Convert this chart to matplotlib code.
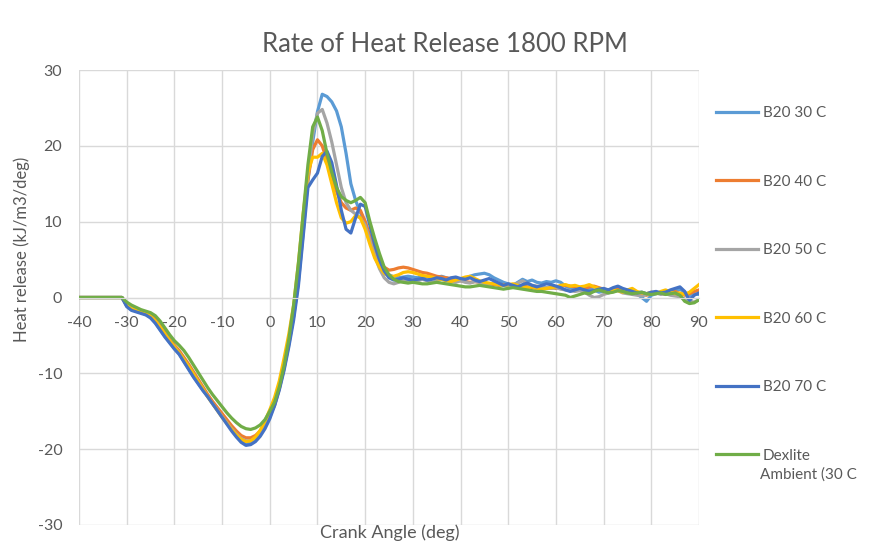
import matplotlib
matplotlib.use("Agg")
import matplotlib.pyplot as plt
import numpy as np

plt.rcParams['font.family'] = ['Lato', 'DejaVu Sans']
plt.rcParams['axes.unicode_minus'] = False

# crank angle, one value per degree from -40 to 90
crank_angle = list(range(-40, 91))

lead_in = [0.0] * 9  # -40 .. -32

b20_30 = lead_in + [
    0.0, -1.1, -1.6, -1.8, -2.0, -2.2, -2.6, -3.3, -4.2, -5.1, -5.9, -6.7, -7.4, -8.4, -9.4, -10.4,
    -11.3, -12.2, -13.0, -13.9, -14.8, -15.6, -16.5, -17.3, -18.1, -18.8, -19.2, -19.1, -18.7, -18.0, -17.0, -15.8,
    -14.0, -11.8, -9.2, -6.0, -2.5, 2.0, 8.5, 15.5, 20.5, 24.5, 26.8, 26.5, 25.8, 24.6, 22.5, 19.0, 15.0, 12.8, 11.2, 10.0,
    8.0, 6.0, 4.5, 3.5, 3.0, 2.7, 2.6, 2.7, 2.8, 2.7,
    2.6, 2.8, 2.7, 2.5, 2.6, 2.8, 2.6, 2.4, 2.5, 2.3,
    2.5, 2.8, 3.0, 3.1, 3.2, 3.0, 2.6, 2.3, 2.0, 1.8,
    1.6, 2.0, 2.4, 2.1, 2.3, 2.0, 1.9, 2.1, 2.0, 2.2,
    2.0, 1.5, 1.2, 1.0, 1.1, 0.9, 1.2, 1.0, 0.7, 0.8,
    1.0, 1.1, 1.3, 0.9, 0.7, 0.9, 0.5, 0.0, -0.5, 0.3,
    0.5, 0.7, 0.6, 0.9, 0.8, 1.1, 0.7, 0.2, 0.5, 0.4]

b20_40 = lead_in + [
    0.0, -0.9, -1.3, -1.6, -1.8, -2.0, -2.3, -2.9, -3.7, -4.6, -5.5, -6.3, -7.0, -7.9, -8.8, -9.8,
    -10.8, -11.8, -12.8, -13.7, -14.5, -15.3, -16.1, -16.9, -17.6, -18.2, -18.5, -18.5, -18.2, -17.6, -16.7, -15.5,
    -14.2, -12.0, -9.2, -6.0, -2.2, 3.0, 9.5, 15.5, 19.5, 20.8, 20.0, 18.0, 16.0, 14.0, 12.5, 11.8, 11.5, 11.8, 11.5, 10.0,
    8.0, 6.0, 4.8, 4.0, 3.6, 3.7, 3.9, 4.0, 3.9, 3.7,
    3.5, 3.3, 3.2, 3.0, 2.8, 2.7, 2.6, 2.5, 2.3, 2.2,
    2.1, 2.0, 2.1, 2.0, 1.9, 1.8, 1.7, 1.6, 1.7, 1.6,
    1.5, 1.4, 1.6, 1.5, 1.3, 1.2, 1.1, 1.2, 1.3, 1.2,
    1.5, 1.6, 1.5, 1.4, 1.3, 1.2, 1.4, 1.5, 1.3, 1.1,
    1.0, 0.9, 1.1, 0.8, 0.7, 0.9, 0.6, 0.4, 0.3, 0.5,
    0.7, 0.6, 0.4, 0.6, 0.8, 0.5, 0.3, 0.5, 0.8, 1.0]

b20_50 = lead_in + [
    0.0, -1.0, -1.4, -1.7, -1.9, -2.1, -2.5, -3.1, -3.9, -4.8, -5.7, -6.5, -7.3, -8.2, -9.1, -10.1,
    -11.1, -12.1, -13.1, -14.0, -14.8, -15.7, -16.5, -17.3, -18.0, -18.6, -18.9, -18.9, -18.6, -17.9, -16.9, -15.6,
    -14.2, -12.0, -9.4, -6.2, -2.5, 2.5, 9.0, 16.0, 21.5, 24.3, 24.8, 23.0, 20.5, 17.5, 14.5, 12.5, 11.5, 11.0, 10.5, 9.5,
    7.5, 5.5, 3.8, 2.6, 2.0, 1.8, 2.0, 2.3, 2.2, 2.0,
    2.2, 2.4, 2.2, 2.0, 2.2, 2.4, 2.3, 2.1, 2.0, 2.2,
    2.0, 1.9, 2.1, 2.0, 1.8, 1.7, 1.9, 1.8, 1.6, 1.5,
    1.7, 1.9, 2.2, 1.8, 1.6, 1.5, 1.4, 1.3, 1.2, 1.3,
    1.1, 1.0, 0.9, 0.8, 0.9, 0.7, 0.3, 0.0, 0.1, 0.4,
    0.6, 0.8, 0.9, 0.6, 0.5, 0.4, 0.3, 0.2, 0.4, 0.5,
    0.6, 0.4, 0.5, 0.3, 0.2, 0.1, -0.2, -0.5, -0.6, -0.3]

b20_60 = lead_in + [
    0.0, -1.0, -1.5, -1.7, -1.9, -2.1, -2.5, -3.1, -3.9, -4.8, -5.7, -6.5, -7.3, -8.2, -9.1, -10.1,
    -11.1, -12.1, -13.1, -14.0, -14.9, -15.8, -16.6, -17.4, -18.1, -18.7, -19.0, -18.9, -18.4, -17.5, -16.3, -14.8,
    -13.2, -11.0, -8.0, -4.8, -1.0, 4.5, 11.0, 16.5, 18.5, 18.5, 19.0, 17.5, 15.0, 12.5, 10.5, 9.8, 10.0, 10.8, 10.5, 9.0,
    7.0, 5.2, 4.0, 3.2, 2.8, 2.8, 3.0, 3.3, 3.4, 3.3,
    3.1, 2.9, 2.8, 2.7, 2.5, 2.4, 2.2, 2.1, 2.3, 2.5,
    2.7, 2.8, 2.5, 2.2, 2.0, 1.9, 1.8, 1.7, 1.6, 1.7,
    1.8, 1.6, 1.4, 1.3, 1.4, 1.2, 1.1, 1.2, 1.3, 1.4,
    1.6, 1.7, 1.5, 1.6, 1.4, 1.5, 1.7, 1.4, 1.2, 1.0,
    0.8, 1.0, 0.9, 0.7, 1.0, 1.2, 0.8, 0.6, 0.5, 0.7,
    0.5, 0.8, 1.0, 0.7, 0.5, 0.6, 0.4, 0.7, 1.2, 1.7]

b20_70 = lead_in + [
    0.0, -1.2, -1.7, -1.9, -2.1, -2.3, -2.7, -3.4, -4.3, -5.2, -6.0, -6.8, -7.5, -8.5, -9.5, -10.5,
    -11.4, -12.3, -13.1, -14.0, -14.9, -15.8, -16.7, -17.6, -18.4, -19.1, -19.5, -19.4, -19.0, -18.3, -17.3, -16.0,
    -14.3, -12.2, -9.6, -6.5, -3.0, 1.5, 8.0, 14.5, 15.5, 16.4, 18.6, 19.3, 17.8, 14.8, 11.5, 9.0, 8.5, 10.5, 12.3, 12.0,
    9.5, 7.0, 5.0, 3.5, 2.6, 2.3, 2.4, 2.6, 2.4, 2.3,
    2.4, 2.5, 2.3, 2.4, 2.6, 2.5, 2.3, 2.6, 2.7, 2.5,
    2.4, 2.6, 2.3, 2.1, 2.3, 2.5, 2.2, 1.9, 1.6, 1.8,
    1.6, 1.4, 1.7, 1.9, 1.6, 1.4, 1.6, 1.8, 1.7, 1.5,
    1.3, 1.0, 0.8, 1.0, 1.2, 1.0, 0.8, 0.9, 1.1, 1.2,
    1.0, 1.3, 1.5, 1.2, 1.0, 0.8, 0.6, 0.7, 0.5, 0.7,
    0.8, 0.6, 0.7, 1.0, 1.2, 1.4, 0.8, -0.4, 0.3, 0.6]

dexlite = lead_in + [
    0.0, -0.6, -1.0, -1.3, -1.6, -1.8, -2.0, -2.4, -3.1, -4.0, -4.9, -5.7, -6.3, -7.0, -7.9, -8.9,
    -9.9, -10.9, -11.9, -12.8, -13.6, -14.4, -15.2, -15.9, -16.5, -17.0, -17.3, -17.4, -17.2, -16.8, -16.1, -15.0,
    -13.8, -11.8, -9.0, -5.5, -1.0, 4.5, 11.0, 17.5, 22.5, 23.8, 22.0, 19.0, 16.5, 14.5, 13.3, 12.8, 12.5, 12.8, 13.2, 12.5,
    10.0, 7.8, 5.8, 4.0, 3.0, 2.4, 2.1, 2.0, 1.9, 2.0,
    1.9, 1.8, 1.8, 1.9, 2.0, 1.9, 1.8, 1.7, 1.6, 1.5,
    1.4, 1.4, 1.5, 1.6, 1.5, 1.4, 1.3, 1.2, 1.1, 1.2,
    1.3, 1.2, 1.1, 1.0, 0.9, 0.8, 0.8, 0.7, 0.6, 0.5,
    0.4, 0.3, 0.0, 0.2, 0.4, 0.6, 0.5, 0.8, 1.0, 0.8,
    0.6, 0.7, 0.9, 0.8, 0.6, 0.5, 0.6, 0.7, 0.5, 0.4,
    0.5, 0.6, 0.4, 0.5, 0.6, 0.3, -0.5, -0.8, -0.7, -0.3]

# the last legend label wraps onto a second line in the original
labels = ['B20 30 C', 'B20 40 C', 'B20 50 C', 'B20 60 C', 'B20 70 C', 'Dexlite']
label_wrap = 'Ambient (30 C'
colors = ['#5B9BD5', '#ED7D31', '#A5A5A5', '#FFC000', '#4472C4', '#70AD47']
series = [b20_30, b20_40, b20_50, b20_60, b20_70, dexlite]

text_col = '#595959'
grid_col = '#D9D9D9'

fig = plt.figure(figsize=(8.69, 5.41), dpi=100)
ax = fig.add_axes([79 / 869, 16 / 541, 620 / 869, 455 / 541])

for vals, lab, col in zip(series, labels, colors):
    ax.plot(crank_angle, vals, color=col, lw=2.3, label=lab, solid_joinstyle='round')

ax.set_xlim(-40, 90)
ax.set_ylim(-30, 30)
ax.set_xticks(range(-40, 91, 10))
ax.set_yticks(range(-30, 31, 10))
ax.grid(True, color=grid_col, lw=1)
ax.set_axisbelow(True)

for s in ['top', 'right', 'left']:
    ax.spines[s].set_visible(False)
ax.spines['bottom'].set_position(('data', 0))
ax.spines['bottom'].set_color(grid_col)
ax.tick_params(axis='both', length=0, colors=text_col, labelsize=11.5)
ax.tick_params(axis='x', pad=13.5)
ax.tick_params(axis='y', pad=12)

fig.text(445 / 869, 1 - 45 / 541, 'Rate of Heat Release 1800 RPM', color=text_col,
         fontsize=18.5, ha='center', va='center')
fig.text(390 / 869, 8 / 541, 'Crank Angle (deg)', color=text_col, fontsize=13,
         ha='center', va='center')
fig.text(22 / 869, 292 / 541, 'Heat release (kJ/m3/deg)', color=text_col, fontsize=12,
         ha='center', va='center', rotation=90)

fig.legend(loc='upper left', bbox_to_anchor=(710 / 869, 1 - 100 / 541), frameon=False,
           fontsize=11, labelcolor=text_col, handlelength=2.75, handletextpad=0.3,
           labelspacing=3.57, borderaxespad=0)
fig.text(760 / 869, 1 - 475 / 541, label_wrap, color=text_col, fontsize=11,
         ha='left', va='center')

fig.savefig('out.png', dpi=100)
